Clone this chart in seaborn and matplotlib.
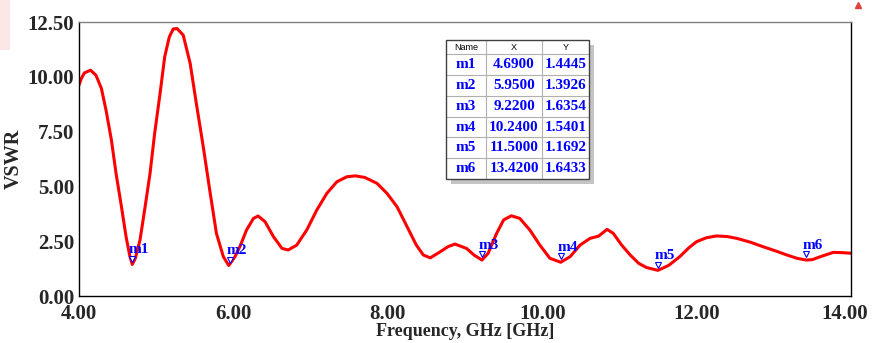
import matplotlib
matplotlib.use("Agg")
import matplotlib.pyplot as plt
import seaborn as sns
import pandas as pd
from matplotlib.patches import Rectangle
from matplotlib.lines import Line2D
from matplotlib.transforms import offset_copy, ScaledTranslation

# VSWR curve
freq = [4.00, 4.03, 4.07, 4.15, 4.22, 4.29, 4.35, 4.42, 4.48, 4.55, 4.61,
        4.66, 4.69, 4.73, 4.79, 4.85, 4.92, 4.98, 5.05, 5.11, 5.17, 5.22,
        5.27, 5.35, 5.44, 5.52, 5.61, 5.70, 5.78, 5.87, 5.94, 6.02, 6.09,
        6.17, 6.26, 6.32, 6.41, 6.52, 6.63, 6.71, 6.82, 6.95, 7.08, 7.21,
        7.34, 7.47, 7.58, 7.70, 7.86, 7.99, 8.12, 8.25, 8.37, 8.46, 8.55,
        8.68, 8.78, 8.87, 9.02, 9.12, 9.22, 9.30, 9.41, 9.50, 9.60, 9.71,
        9.84, 9.97, 10.10, 10.24, 10.36, 10.49, 10.62, 10.73, 10.84, 10.92,
        11.03, 11.14, 11.25, 11.35, 11.50, 11.64, 11.78, 11.90, 12.00, 12.13,
        12.26, 12.40, 12.52, 12.70, 12.86, 13.02, 13.17, 13.30, 13.42, 13.50,
        13.60, 13.77, 13.88, 14.00]
vswr = [9.62, 9.92, 10.18, 10.30, 10.07, 9.47, 8.48, 7.11, 5.59, 4.07, 2.70,
        1.79, 1.44, 1.72, 2.55, 3.92, 5.59, 7.42, 9.24, 10.91, 11.82, 12.18,
        12.20, 11.90, 10.61, 8.78, 6.80, 4.68, 2.86, 1.79, 1.39, 1.79, 2.30,
        3.01, 3.54, 3.65, 3.39, 2.70, 2.17, 2.10, 2.32, 3.01, 3.92, 4.68,
        5.21, 5.44, 5.48, 5.41, 5.14, 4.68, 4.07, 3.16, 2.32, 1.87, 1.74,
        2.02, 2.25, 2.37, 2.17, 1.86, 1.64, 1.95, 2.86, 3.47, 3.66, 3.54,
        3.01, 2.32, 1.72, 1.54, 1.79, 2.32, 2.63, 2.73, 3.04, 2.86,
        2.32, 1.87, 1.49, 1.30, 1.17, 1.40, 1.79, 2.20, 2.48, 2.66,
        2.74, 2.71, 2.63, 2.45, 2.25, 2.06, 1.87, 1.72, 1.64, 1.66,
        1.79, 1.99, 1.98, 1.95]

# markers (from the table)
marker_names = ['m1', 'm2', 'm3', 'm4', 'm5', 'm6']
marker_x = [4.69, 5.95, 9.22, 10.24, 11.50, 13.42]
marker_y = [1.4445, 1.3926, 1.6354, 1.5401, 1.1692, 1.6433]

df = pd.DataFrame({'Frequency': freq, 'VSWR': vswr})

sns.set_style('white')
plt.rcParams['font.family'] = ['Liberation Serif', 'DejaVu Serif']

W, H = 872, 343
fig = plt.figure(figsize=(W / 100, H / 100), dpi=100, facecolor='white')
ax = fig.add_axes([79 / W, 1 - 296 / H, (851 - 79) / W, (296 - 22) / H])

def px(x, y):
    # pixel position (top-left origin) -> figure fraction
    return x / W, 1 - y / H

# small pink strip and red icon seen at the corners
fig.patches.append(Rectangle(px(0, 50), 10 / W, 50 / H, transform=fig.transFigure,
                             facecolor='#fde6e6', edgecolor='none', zorder=0))
fig.add_artist(Line2D([858 / W], [1 - 5 / H], marker='^', color='#e04040',
                      markersize=5, transform=fig.transFigure))

sns.lineplot(data=df, x='Frequency', y='VSWR', color='red', linewidth=2.2,
             ax=ax, sort=False)

ax.set_xlim(4, 14)
ax.set_ylim(0, 12.5)
ax.set_xticks([4, 6, 8, 10, 12, 14])
ax.set_xticks([4 + 0.4 * i for i in range(26)], minor=True)
ax.set_yticks([0, 2.5, 5, 7.5, 10, 12.5])
ax.set_yticks([0.5 * i for i in range(26)], minor=True)
ax.xaxis.set_major_formatter(matplotlib.ticker.FormatStrFormatter('%.2f'))
ax.yaxis.set_major_formatter(matplotlib.ticker.FormatStrFormatter('%.2f'))
ax.tick_params(which='both', direction='out', color='black', width=0.8)
ax.tick_params(axis='y', which='major', length=3, pad=0.5, labelsize=15)
ax.tick_params(axis='y', which='minor', length=3)
ax.tick_params(axis='x', which='major', length=4, pad=2, labelsize=15)
ax.tick_params(axis='x', which='minor', length=4)
for lab in ax.get_xticklabels() + ax.get_yticklabels():
    lab.set_fontweight('bold')
# last x label sits against the right edge, nudge it in a little
last = ax.get_xticklabels()[-1]
last.set_transform(last.get_transform() + ScaledTranslation(-0.06, 0, fig.dpi_scale_trans))

ax.set_xlabel('Frequency, GHz [GHz]', fontsize=13, fontweight='bold', labelpad=-1)
ax.set_ylabel('VSWR', fontsize=14.5, fontweight='bold', labelpad=3)

for side in ['left', 'bottom', 'right']:
    ax.spines[side].set_color('black')
    ax.spines[side].set_linewidth(1.0)
ax.spines['top'].set_color('#808080')
ax.spines['top'].set_linewidth(1.0)

# marker triangles and names
tri = offset_copy(ax.transData, fig=fig, x=0, y=4.2, units='points')
ax.plot(marker_x, marker_y, linestyle='none', marker='v', markersize=5,
        markerfacecolor='white', markeredgecolor='blue', markeredgewidth=0.8,
        transform=tri, zorder=5)
for name, mx, my in zip(marker_names, marker_x, marker_y):
    ax.annotate(name, xy=(mx, my), xytext=(-2.5, 8), textcoords='offset points',
                ha='left', va='baseline', fontsize=11, fontweight='bold',
                color='blue', zorder=6)

# marker table
col_edges = [446, 486, 542, 589]
row_edges = [40, 54, 75, 96, 117, 137, 158, 179]
tw = (col_edges[-1] - col_edges[0]) / W
th = (row_edges[-1] - row_edges[0]) / H
fig.patches.append(Rectangle(px(col_edges[0] + 5, row_edges[-1] + 5), tw, th,
                             transform=fig.transFigure, facecolor='#c4c4c4',
                             edgecolor='none', zorder=10))
fig.patches.append(Rectangle(px(col_edges[0], row_edges[-1]), tw, th,
                             transform=fig.transFigure, facecolor='white',
                             edgecolor='none', zorder=11))
for xe in col_edges[1:-1]:
    fig.add_artist(Line2D([xe / W, xe / W], [1 - row_edges[0] / H, 1 - row_edges[-1] / H],
                          color='#b0b0b0', lw=0.8, transform=fig.transFigure, zorder=12))
for ye in row_edges[1:-1]:
    fig.add_artist(Line2D([col_edges[0] / W, col_edges[-1] / W], [1 - ye / H, 1 - ye / H],
                          color='#b0b0b0', lw=0.8, transform=fig.transFigure, zorder=12))
fig.patches.append(Rectangle(px(col_edges[0], row_edges[-1]), tw, th,
                             transform=fig.transFigure, facecolor='none',
                             edgecolor='#404040', lw=1.0, zorder=13))

headers = ['Name', 'X', 'Y']
for j, h in enumerate(headers):
    cx = (col_edges[j] + col_edges[j + 1]) / 2
    cy = (row_edges[0] + row_edges[1]) / 2
    fig.text(*px(cx, cy), h, ha='center', va='center', fontsize=6.5,
             family='Liberation Sans', color='black', zorder=14)
for i, name in enumerate(marker_names):
    cells = [name, '%.4f' % marker_x[i], '%.4f' % marker_y[i]]
    cy = (row_edges[i + 1] + row_edges[i + 2]) / 2
    for j, c in enumerate(cells):
        cx = (col_edges[j] + col_edges[j + 1]) / 2
        fig.text(*px(cx, cy), c, ha='center', va='center', fontsize=11,
                 fontweight='bold', color='blue', zorder=14)

fig.savefig('out.png', dpi=100, facecolor='white')
